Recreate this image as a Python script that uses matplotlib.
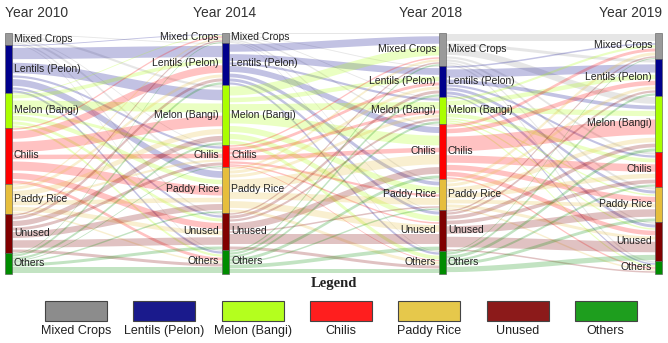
import matplotlib.pyplot as plt
import numpy as np
from matplotlib.patches import Rectangle

plt.rcParams['font.family'] = ['Liberation Sans', 'DejaVu Sans']

years = ['Year 2010', 'Year 2014', 'Year 2018', 'Year 2019']
classes = ['Mixed Crops', 'Lentils (Pelon)', 'Melon (Bangi)', 'Chilis',
           'Paddy Rice', 'Unused', 'Others']
bar_colors = ['#9a9a9a', '#00008c', '#aaff00', '#ff0000', '#e6be3c', '#800000', '#008c00']
legend_colors = ['#8c8c8c', '#1a1a8c', '#b4ff1e', '#ff1e1e', '#e6c84b', '#8c1a1a', '#1e9e1e']

# area moving from class (row) to class (column)
flows_2010_2014 = [
    [1, 1, 3, 1, 3, 2, 1],
    [1, 15, 14, 3, 9, 3, 3],
    [1, 5, 12, 4, 6, 4, 3],
    [2, 10, 14, 6, 12, 8, 4],
    [2, 4, 7, 3, 6, 6, 2],
    [2, 4, 7, 4, 8, 10, 4],
    [1, 3, 3, 1, 2, 4, 7],
]
flows_2014_2018 = [
    [2, 1, 1, 2, 2, 1, 1],
    [10, 9, 3, 8, 5, 4, 3],
    [12, 6, 9, 13, 8, 7, 5],
    [2, 4, 4, 6, 3, 2, 1],
    [3, 4, 4, 13, 9, 9, 4],
    [2, 4, 3, 9, 2, 13, 4],
    [2, 3, 3, 4, 2, 5, 5],
]
flows_2018_2019 = [
    [10, 4, 9, 3, 3, 2, 2],
    [2, 11, 5, 3, 4, 4, 2],
    [3, 6, 7, 5, 2, 2, 2],
    [4, 6, 20, 10, 7, 6, 2],
    [4, 4, 6, 6, 5, 4, 2],
    [2, 3, 5, 5, 10, 14, 2],
    [1, 3, 4, 3, 4, 7, 1],
]
transitions = [np.array(m, float) for m in (flows_2010_2014, flows_2014_2018, flows_2018_2019)]

# node sizes of each year
sizes = [transitions[0].sum(axis=1)] + [m.sum(axis=0) for m in transitions]

fig = plt.figure(figsize=(6.68, 3.43), dpi=100)
ax = fig.add_axes([0, 0, 1, 1])
ax.set_xlim(0, 668)
ax.set_ylim(343, 0)
ax.axis('off')

bar_x = [5, 222, 439, 655]
bar_w = 7
y0 = 32.5
tops = [y0 + np.concatenate([[0], np.cumsum(s)[:-1]]) for s in sizes]

# flows
u = np.linspace(0, 1, 80)
s_curve = 3 * u ** 2 - 2 * u ** 3
for t, m in enumerate(transitions):
    x1 = bar_x[t] + bar_w
    x2 = bar_x[t + 1]
    xs = x1 + (x2 - x1) * u
    out_off = tops[t].copy()
    in_off = tops[t + 1].copy()
    src_start = np.zeros((7, 7))
    dst_start = np.zeros((7, 7))
    for i in range(7):
        for j in range(7):
            src_start[i, j] = out_off[i]
            out_off[i] += m[i, j]
    for j in range(7):
        for i in range(7):
            dst_start[i, j] = in_off[j]
            in_off[j] += m[i, j]
    for i in range(7):
        for j in range(7):
            v = m[i, j]
            th = max(v * 0.75, 0.9)
            a = src_start[i, j] + v / 2
            b = dst_start[i, j] + v / 2
            mid = a + (b - a) * s_curve
            ax.fill_between(xs, mid - th / 2, mid + th / 2, color=bar_colors[i],
                            alpha=0.24, linewidth=0, zorder=1)

# node bars and labels
for c in range(4):
    for k in range(7):
        ax.add_patch(Rectangle((bar_x[c], tops[c][k]), bar_w, sizes[c][k],
                               facecolor=bar_colors[k], edgecolor='#555555',
                               linewidth=0.4, zorder=3))
        yc = tops[c][k] + sizes[c][k] / 2
        if c < 3:
            ax.text(bar_x[c] + bar_w + 2, yc, classes[k], ha='left', va='center',
                    fontsize=7.5, color='#222222', zorder=4)
        if c > 0:
            ax.text(bar_x[c] - 3, yc, classes[k], ha='right', va='center',
                    fontsize=7.5, color='#222222', zorder=4)

ax.text(bar_x[0], 13, years[0], ha='left', va='center', fontsize=10, color='#333333')
ax.text(bar_x[1] + 3, 13, years[1], ha='center', va='center', fontsize=10, color='#333333')
ax.text(bar_x[2] - 8, 13, years[2], ha='center', va='center', fontsize=10, color='#333333')
ax.text(bar_x[3] + bar_w, 13, years[3], ha='right', va='center', fontsize=10, color='#333333')

# legend
ax.text(334, 284, 'Legend', ha='center', va='center', fontsize=10.5,
        fontweight='bold', family=['Liberation Serif', 'DejaVu Serif'], color='#222222')
for k in range(7):
    cx = 76 + 88.3 * k
    ax.add_patch(Rectangle((cx - 31, 301), 62, 20, facecolor=legend_colors[k],
                           edgecolor='#444444', linewidth=0.8))
    ax.text(cx, 331, classes[k], ha='center', va='center', fontsize=9, color='#222222')

fig.savefig('out.png', dpi=100)
